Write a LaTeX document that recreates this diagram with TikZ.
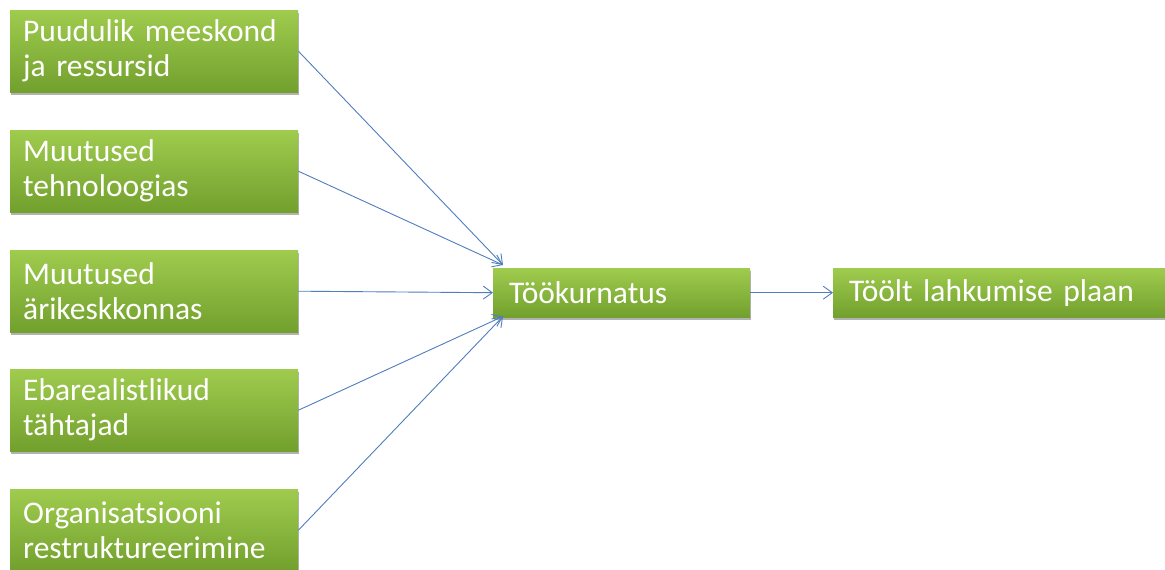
\documentclass[tikz,border=0pt]{standalone}
\usepackage{fontspec}
\setmainfont{Carlito}
\usetikzlibrary{arrows.meta,shadows}
\definecolor{gtop}{HTML}{9FCB4E}
\definecolor{gbot}{HTML}{72A02D}
\definecolor{arr}{HTML}{4F7DBD}
\begin{document}
\begin{tikzpicture}[x=1pt,y=-1pt,
  greenbox/.style={draw=none, top color=gtop, bottom color=gbot, text=white,
    font=\fontsize{31.5}{35}\selectfont, align=left, anchor=north west,
    inner ysep=0pt,
    drop shadow={shadow xshift=1pt, shadow yshift=-3pt, opacity=0.3, fill=black}},
  leftbox/.style={greenbox, minimum width=288pt, minimum height=82pt, text width=262pt, inner xsep=13pt},
  widebox/.style={greenbox, minimum height=49pt, inner xsep=16pt},
  link/.style={draw=arr, line width=0.9pt, -{Straight Barb[length=9pt,width=13pt]}}]
\useasboundingbox (0,0) rectangle (1165,570);
\clip (0,0) rectangle (1165,570);
\node[leftbox] (a) at (10,10) {Puudulik meeskond\\ja ressursid};
\node[leftbox] (b) at (10,130) {Muutused\\tehnoloogias};
\node[leftbox] (c) at (10,250) {Muutused\\ärikeskkonnas};
\node[leftbox] (d) at (10,369) {Ebarealistlikud\\tähtajad};
\node[leftbox] (e) at (10,489) {Organisatsiooni\\restruktureerimine};
\node[widebox, minimum width=257pt, text width=225pt] (m) at (493,268) {Töökurnatus};
\node[widebox, minimum width=350pt, text width=318pt] (r) at (833,268) {Töölt lahkumise plaan};
\coordinate (mt) at ([shift={(10,-3)}]m.north west);
\coordinate (mb) at ([shift={(10,-1)}]m.south west);
\draw[link] (a.east) -- (mt);
\draw[link] (b.east) -- (mt);
\draw[link] (c.east) -- (m.west);
\draw[link] (d.east) -- (mb);
\draw[link] (e.east) -- (mb);
\draw[link] (m.east) -- (r.west);
\end{tikzpicture}
\end{document}
